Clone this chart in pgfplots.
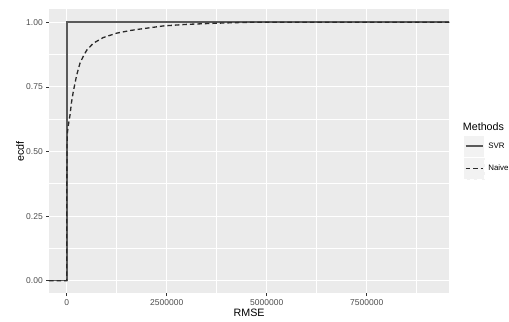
\documentclass[border=0pt]{standalone}
\usepackage{fontspec}
\setmainfont{Liberation Sans}
\usepackage{pgfplots}
\usepackage{pgfplotstable}
\pgfplotsset{compat=1.18}
\definecolor{panelbg}{HTML}{EBEBEB}
\definecolor{keybg}{HTML}{F2F2F2}
\definecolor{tickgray}{HTML}{4D4D4D}
\definecolor{tickmark}{HTML}{333333}
\definecolor{svrcol}{HTML}{5A5A5A}
\definecolor{naivecol}{HTML}{2A2A2A}

\pgfplotstableread{
x y
-442500 0
5000 0
5000 1
9565000 1
}\svrdata

\pgfplotstableread{
x y
-442500 0
0 0
1500 0.2
4000 0.42
7500 0.525
20000 0.575
45000 0.605
82500 0.641
120000 0.69
165000 0.732
250000 0.796
332500 0.842
420000 0.870
500000 0.892
665000 0.919
915000 0.941
1250000 0.958
1580000 0.968
1750000 0.972
2420000 0.986
3000000 0.992
3670000 0.996
4080000 0.998
4600000 1.0
9565000 1.0
}\naivedata

\begin{document}
\begin{tikzpicture}
\useasboundingbox (-49bp,-28.7bp) rectangle (460bp,293.3bp);
\begin{axis}[
  at={(0,0)}, anchor=south west,
  scale only axis, width=400.3bp, height=284bp,
  xmin=-442500, xmax=9565000, ymin=-0.0488, ymax=1.0503,
  clip mode=individual,
  axis background/.style={fill=panelbg},
  axis line style={draw=none},
  tick align=outside, tick pos=left,
  major tick length=2.75bp,
  minor tick length=0pt,
  every tick/.style={tickmark, line width=0.6bp},
  xtick={0,2500000,5000000,7500000},
  minor xtick={1250000,3750000,6250000,8750000},
  ytick={0,0.25,0.5,0.75,1},
  minor ytick={0.125,0.375,0.625,0.875},
  grid=both,
  major grid style={white, line width=1.1bp},
  minor grid style={white, line width=0.6bp},
  scaled x ticks=false, scaled y ticks=false,
  /pgf/number format/assume math mode=true,
  xticklabel style={font=\fontsize{8.5bp}{10bp}\selectfont, text=tickgray, /pgf/number format/fixed, /pgf/number format/1000 sep={}},
  yticklabel style={font=\fontsize{8.5bp}{10bp}\selectfont, text=tickgray, /pgf/number format/fixed, /pgf/number format/fixed zerofill, /pgf/number format/precision=2},
  xlabel={RMSE}, ylabel={ecdf},
  xlabel style={font=\fontsize{10.7bp}{12bp}\selectfont, at={(rel axis cs:0.5,0)}, anchor=center, yshift=-19.7bp},
  ylabel style={font=\fontsize{10.7bp}{12bp}\selectfont, at={(rel axis cs:-0.0724,0.5)}, anchor=center},
  legend style={at={(rel axis cs:1.035,0.5577)}, anchor=north west, draw=none, fill=none, inner sep=0pt, outer sep=0pt, row sep=0pt,
    font=\fontsize{7.9bp}{9.5bp}\selectfont,
    nodes={inner sep=0pt, outer sep=0pt},
    /tikz/every odd column/.append style={column sep=3.3bp}},
  legend cell align=left,
  legend image code/.code={\draw[white, fill=keybg, line width=0.7bp] (0bp,-10.9bp) rectangle (21bp,10.9bp); \draw[#1] (2bp,0bp) -- (19bp,0bp);},
]
\addplot[svrcol, line width=1.6bp] table[x=x,y=y] {\svrdata};
\addlegendentry{SVR}
\addplot[naivecol, line width=1.3bp, dash pattern=on 4.5bp off 3bp] table[x=x,y=y] {\naivedata};
\addlegendentry{Naive}
\node[anchor=base west, inner sep=0pt, font=\fontsize{10.7bp}{12bp}\selectfont] at (rel axis cs:1.0335,0.5725) {Methods};
\end{axis}
\end{tikzpicture}
\end{document}
